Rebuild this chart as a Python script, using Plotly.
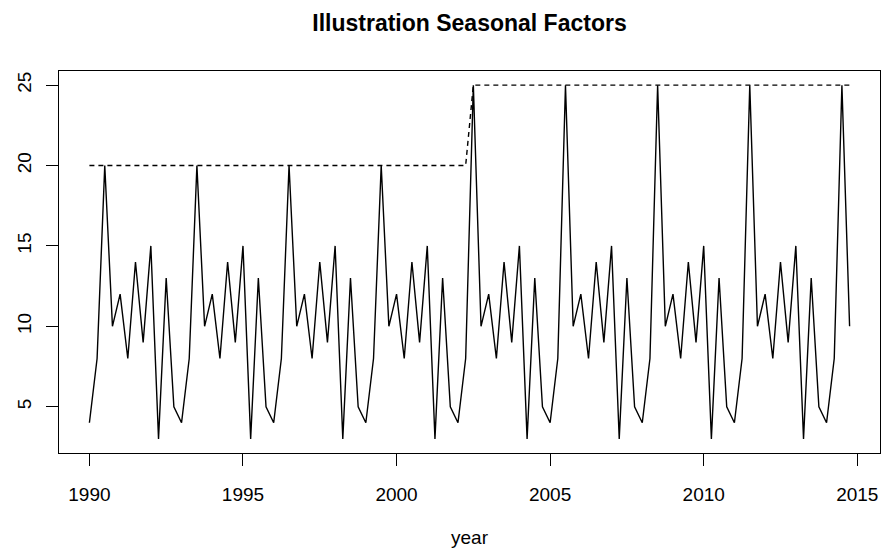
import plotly.graph_objects as go

# Quarterly time series starting 1990 Q1 (frequency 4)
start_year = 1990
frequency = 4

series_values = [
    4, 8, 20, 10, 12, 8, 14, 9, 15, 3, 13, 5,   # 1990-1992
    4, 8, 20, 10, 12, 8, 14, 9, 15, 3, 13, 5,   # 1993-1995
    4, 8, 20, 10, 12, 8, 14, 9, 15, 3, 13, 5,   # 1996-1998
    4, 8, 20, 10, 12, 8, 14, 9, 15, 3, 13, 5,   # 1999-2001
    4, 8, 25, 10, 12, 8, 14, 9, 15, 3, 13, 5,   # 2002-2004
    4, 8, 25, 10, 12, 8, 14, 9, 15, 3, 13, 5,   # 2005-2007
    4, 8, 25, 10, 12, 8, 14, 9, 15, 3, 13, 5,   # 2008-2010
    4, 8, 25, 10, 12, 8, 14, 9, 15, 3, 13, 5,   # 2011-2013
    4, 8, 25, 10,                               # 2014
]

peak_level = [20] * 50 + [25] * 50

x_ticks = [1990, 1995, 2000, 2005, 2010, 2015]
y_ticks = [5, 10, 15, 20, 25]

years = [start_year + i / frequency for i in range(len(series_values))]

FONT = "Liberation Sans, Arial, Helvetica, sans-serif"

fig = go.Figure()
fig.add_trace(go.Scatter(
    x=years, y=series_values, mode="lines",
    line=dict(color="black", width=1.4), showlegend=False,
))
fig.add_trace(go.Scatter(
    x=years, y=peak_level, mode="lines",
    line=dict(color="black", width=1.4, dash="5px,4px"), showlegend=False,
))

# R-style 4% range extension
xmin, xmax = min(years), max(years)
ymin, ymax = min(series_values), max(series_values)
dx = (xmax - xmin) * 0.04
dy = (ymax - ymin) * 0.04

fig.update_layout(
    width=888, height=551,
    margin=dict(l=59, r=8, t=71, b=98, autoexpand=False),
    paper_bgcolor="white", plot_bgcolor="white",
    font=dict(family=FONT, size=19, color="black"),
    title=dict(
        text="<b>Illustration Seasonal Factors</b>",
        x=0.5, xref="paper", y=1 - 23 / 551, yref="container",
        xanchor="center", yanchor="middle",
        font=dict(family=FONT, size=23, color="black"),
    ),
    xaxis=dict(
        range=[xmin - dx, xmax + dx], automargin=False,
        tickmode="array", tickvals=x_ticks, ticktext=[str(t) for t in x_ticks],
        ticks="outside", ticklen=12, tickwidth=1, tickcolor="black",
        showline=True, linecolor="black", linewidth=1, mirror=True,
        showgrid=False, zeroline=False, ticklabelstandoff=12,
        tickfont=dict(family=FONT, size=19, color="black"),
    ),
    yaxis=dict(
        range=[ymin - dy, ymax + dy], automargin=False,
        tickmode="array", tickvals=y_ticks, ticktext=[str(t) for t in y_ticks],
        ticks="outside", ticklen=12, tickwidth=1, tickcolor="black",
        showline=True, linecolor="black", linewidth=1, mirror=True,
        showgrid=False, zeroline=False, tickangle=-90, ticklabelstandoff=7,
        tickfont=dict(family=FONT, size=19, color="black"),
    ),
    annotations=[dict(
        text="year", x=0.5, xref="paper", y=-(537 - 453) / 382, yref="paper",
        xanchor="center", yanchor="middle", showarrow=False,
        font=dict(family=FONT, size=19, color="black"),
    )],
)

fig.write_html(
    "out.html",
    config={"displayModeBar": False},
    post_script="document.body.style.margin='0';document.body.style.overflow='hidden';",
)
